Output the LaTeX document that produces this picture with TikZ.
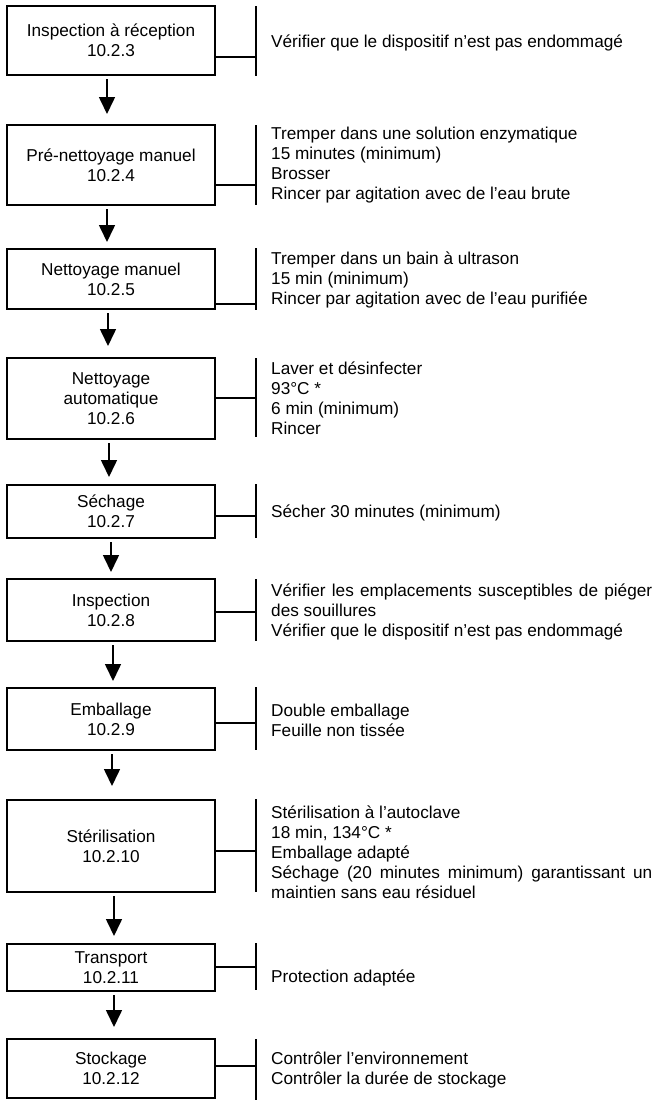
\documentclass[tikz,border=0pt]{standalone}
\usepackage{fontspec}
\setmainfont{Liberation Sans}
\usetikzlibrary{arrows.meta}

\tikzset{
  stepbox/.style={draw, line width=2pt, minimum width=208pt, align=center, inner sep=0pt},
  note/.style={anchor=west, align=left, inner sep=0pt},
  brace/.style={line width=2pt},
  link/.style={line width=1.6pt},
  flow/.style={line width=1.6pt, -{Triangle[length=17pt,width=16pt]}, shorten <=3pt},
}

\begin{document}
\begin{tikzpicture}[x=1pt, y=-1pt, font=\fontsize{17.2}{20}\selectfont]
  \useasboundingbox (0,0) rectangle (654,1100);

  % the steps
  \node[stepbox, minimum height=69pt] (s1) at (111,40.5) {Inspection à réception\\10.2.3};
  \node[stepbox, minimum height=80pt] (s2) at (111,165) {Pré-nettoyage manuel\\10.2.4};
  \node[stepbox, minimum height=60pt] (s3) at (111,279) {Nettoyage manuel\\10.2.5};
  \node[stepbox, minimum height=81pt] (s4) at (111,398.5) {Nettoyage\\automatique\\10.2.6};
  \node[stepbox, minimum height=53pt] (s5) at (111,511.5) {Séchage\\10.2.7};
  \node[stepbox, minimum height=62pt] (s6) at (111,610) {Inspection\\10.2.8};
  \node[stepbox, minimum height=62pt] (s7) at (111,719) {Emballage\\10.2.9};
  \node[stepbox, minimum height=92pt] (s8) at (111,846) {Stérilisation\\10.2.10};
  \node[stepbox, minimum height=47pt] (s9) at (111,967.5) {Transport\\10.2.11};
  \node[stepbox, minimum height=59pt] (s10) at (111,1068.5) {Stockage\\10.2.12};

  % what to do at each step
  \node[note] (t1) at (271,43) {Vérifier que le dispositif n’est pas endommagé};
  \node[note] (t2) at (271,165) {Tremper dans une solution enzymatique\\15 minutes (minimum)\\Brosser\\Rincer par agitation avec de l’eau brute};
  \node[note] (t3) at (271,280) {Tremper dans un bain à ultrason\\15 min (minimum)\\Rincer par agitation avec de l’eau purifiée};
  \node[note] (t4) at (271,398) {Laver et désinfecter\\93°C *\\6 min (minimum)\\Rincer};
  \node[note] (t5) at (271,513) {Sécher 30 minutes (minimum)};
  \node[note] (t6) at (271,612) {\makebox[381pt][s]{Vérifier les emplacements susceptibles de piéger}\\des souillures\\Vérifier que le dispositif n’est pas endommagé};
  \node[note] (t7) at (271,720) {Double emballage\\Feuille non tissée};
  \node[note] (t8) at (271,852) {Stérilisation à l’autoclave\\18 min, 134°C *\\Emballage adapté\\\makebox[381pt][s]{Séchage (20 minutes minimum) garantissant un}\\maintien sans eau résiduel};
  \node[note] (t9) at (271,978) {Protection adaptée};
  \node[note] (t10) at (271,1070) {Contrôler l’environnement\\Contrôler la durée de stockage};

  % brackets and their links
  \foreach \n/\top/\bot/\y in {1/6/76/57, 2/125/205/185, 3/248/310/304, 4/358/437/398,
      5/484/538/516, 6/579/641/612, 7/687/750/723, 8/799/892/851, 9/943/990/967, 10/1039/1100/1066} {
    \coordinate (k\n) at (256,\y);
    \draw[brace] (k\n |- 0,\top) -- (k\n |- 0,\bot);
    \draw[link] (s\n.east |- k\n) -- (k\n);
  }

  % arrows between the steps
  \foreach \a/\b/\dx/\gap in {1/2/-4/10, 2/3/-4/6, 3/4/-3/11, 4/5/-2/7, 5/6/0/6,
      6/7/2/6, 7/8/1/13, 8/9/3/7, 9/10/3/11}
    \draw[flow, shorten >=\gap pt] ([xshift=\dx pt]s\a.south) -- ([xshift=\dx pt]s\b.north);
\end{tikzpicture}
\end{document}
